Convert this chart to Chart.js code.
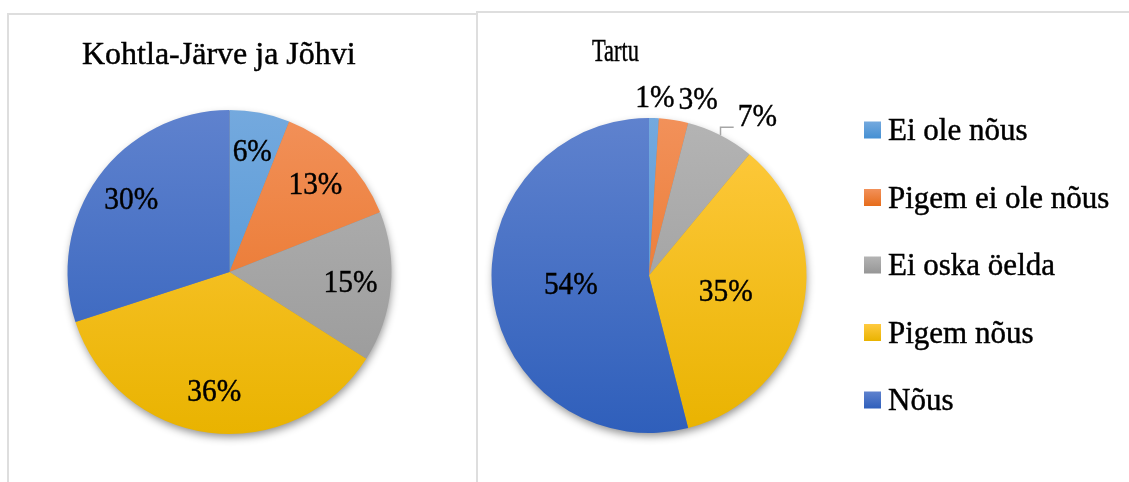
<!DOCTYPE html>
<html>
<head>
<meta charset="utf-8">
<title>Kohtla-Järve ja Jõhvi / Tartu</title>
<script src="https://cdn.jsdelivr.net/npm/chart.js@4.4.1/dist/chart.umd.min.js"></script>
<style>
body { margin: 0; background: #fff; width: 1129px; height: 482px; overflow: hidden; position: relative; }
.frame { position: absolute; border: 2px solid #dedede; height: 520px; }
#frameLeft { left: 7px; top: 13px; width: 467px; }
#frameRight { left: 476px; top: 11px; width: 700px; }
canvas { position: absolute; top: 0; }
#leftChart { left: 0; }
#rightChart { left: 478px; }
</style>
</head>
<body>
<div class="frame" id="frameLeft"></div>
<div class="frame" id="frameRight"></div>
<canvas id="leftChart" width="478" height="482"></canvas>
<canvas id="rightChart" width="651" height="482"></canvas>
<script>
"use strict";

const CATEGORIES = ["Ei ole nõus", "Pigem ei ole nõus", "Ei oska öelda", "Pigem nõus", "Nõus"];
const KOHTLA_VALUES = [6, 13, 15, 36, 30];
const TARTU_VALUES = [1, 3, 7, 35, 54];
const TITLES = ["Kohtla-Järve ja Jõhvi", "Tartu"];

// office style gradient, top and bottom colour of every slice
const COLOR_TOP = ["#74a9de", "#f2915a", "#b4b4b4", "#ffca40", "#5f82ce"];
const COLOR_BOTTOM = ["#4590d3", "#e66c1b", "#969696", "#e9b300", "#2f5fbb"];

const FONT = "'Liberation Serif', 'Times New Roman', serif";


function sliceColor(ctx) {
    let chart = ctx.chart;
    let area = chart.chartArea;
    let i = ctx.dataIndex;
    if (!area) {
        return COLOR_TOP[i];
    }
    let g = chart.ctx.createLinearGradient(0, area.top, 0, area.bottom);
    g.addColorStop(0, COLOR_TOP[i]);
    g.addColorStop(1, COLOR_BOTTOM[i]);
    return g;
}


// soft shadow under the whole pie
const pieShadow = {
    id: "pieShadow",
    beforeDatasetsDraw(chart) {
        let arc = chart.getDatasetMeta(0).data[0];
        if (!arc) return;
        let c = chart.ctx;
        c.save();
        c.shadowColor = "rgba(0,0,0,0.45)";
        c.shadowBlur = 9;
        c.shadowOffsetX = 1;
        c.shadowOffsetY = 4;
        c.beginPath();
        c.arc(arc.x, arc.y, arc.outerRadius - 1, 0, Math.PI * 2);
        c.fillStyle = "#888";
        c.fill();
        c.restore();
    }
};


// text a bit heavier, like the word export
function drawText(c, text, x, y, scaleX) {
    c.save();
    c.translate(x, y);
    c.scale(scaleX, 1);
    c.fillText(text, 0, 0);
    c.lineWidth = 0.45;
    c.strokeStyle = c.fillStyle;
    c.strokeText(text, 0, 0);
    c.restore();
}


// percent labels, small slices go outside (pushed right when they collide)
const sliceLabels = {
    id: "sliceLabels",
    afterDatasetsDraw(chart, args, opts) {
        let c = chart.ctx;
        let meta = chart.getDatasetMeta(0);
        let values = chart.data.datasets[0].data;
        let placed = [];
        c.save();
        c.font = opts.size + "px " + FONT;
        c.fillStyle = "#000";
        c.textAlign = "center";
        c.textBaseline = "middle";
        meta.data.forEach(function(arc, i) {
            let p = arc.getProps(["x", "y", "startAngle", "endAngle", "outerRadius"]);
            let mid = (p.startAngle + p.endAngle) / 2;
            let cos = Math.cos(mid);
            let sin = Math.sin(mid);
            let text = values[i] + "%";
            let w = c.measureText(text).width * opts.scaleX;
            let h = opts.size * 0.7;
            let x, y;
            if (values[i] >= opts.outsideBelow) {
                x = p.x + cos * p.outerRadius * opts.inside;
                y = p.y + sin * p.outerRadius * opts.inside;
            } else {
                let r = p.outerRadius + 8;
                x = p.x + cos * r + cos * w / 2;
                y = p.y + sin * r + sin * h / 2;
                let prev = placed[placed.length - 1];
                if (prev && x - w / 2 < prev.right + 4 && Math.abs(y - prev.y) < h) {
                    let left = prev.right + 4;
                    if (Math.abs(y - prev.y) > 10) {
                        left += 16;
                        let ex = p.x + cos * p.outerRadius;
                        let ey = p.y + sin * p.outerRadius;
                        let ly = y + h / 2 - 2;
                        c.save();
                        c.strokeStyle = "#a6a6a6";
                        c.lineWidth = 1.5;
                        c.beginPath();
                        c.moveTo(ex, ey);
                        c.lineTo(ex, ly);
                        c.lineTo(left - 4, ly);
                        c.stroke();
                        c.restore();
                    }
                    x = left + w / 2;
                }
                placed.push({right: x + w / 2, y: y});
            }
            drawText(c, text, x, y, opts.scaleX);
        });
        c.restore();
    }
};


const panelTitle = {
    id: "panelTitle",
    afterDraw(chart, args, opts) {
        let c = chart.ctx;
        c.save();
        c.font = opts.size + "px " + FONT;
        c.fillStyle = "#000";
        c.textAlign = "left";
        c.textBaseline = "alphabetic";
        drawText(c, opts.text, opts.x, opts.y, opts.scaleX);
        c.restore();
    }
};


const sideLegend = {
    id: "sideLegend",
    afterDraw(chart, args, opts) {
        let c = chart.ctx;
        c.save();
        c.font = opts.size + "px " + FONT;
        c.textAlign = "left";
        c.textBaseline = "alphabetic";
        CATEGORIES.forEach(function(name, i) {
            let cy = opts.top + i * opts.step;
            let b = opts.box;
            let g = c.createLinearGradient(0, cy - b / 2, 0, cy + b / 2);
            g.addColorStop(0, COLOR_TOP[i]);
            g.addColorStop(1, COLOR_BOTTOM[i]);
            c.fillStyle = g;
            c.fillRect(opts.x, cy - b / 2, b, b);
            c.fillStyle = "#000";
            drawText(c, name, opts.x + b + 7, cy + 10, 1);
        });
        c.restore();
    }
};


function makePie(id, values, padding, pluginOpts, extra) {
    let ctx = document.getElementById(id).getContext("2d");
    let plugins = [pieShadow, sliceLabels, panelTitle].concat(extra);
    let opts = {
        legend: { display: false },
        tooltip: { enabled: false }
    };
    for (let k in pluginOpts) {
        opts[k] = pluginOpts[k];
    }
    return new Chart(ctx, {
        type: "pie",
        data: {
            labels: CATEGORIES,
            datasets: [{
                data: values,
                backgroundColor: sliceColor,
                borderWidth: 0
            }]
        },
        options: {
            responsive: false,
            animation: false,
            events: [],
            layout: { padding: padding },
            plugins: opts
        },
        plugins: plugins
    });
}


makePie("leftChart", KOHTLA_VALUES,
    { left: 67.5, right: 86.5, top: 110, bottom: 48 },
    {
        sliceLabels: { size: 32, scaleX: 0.92, inside: 0.75, outsideBelow: 0 },
        panelTitle: { text: TITLES[0], x: 82, y: 64, size: 32, scaleX: 1 }
    },
    []);

makePie("rightChart", TARTU_VALUES,
    { left: 13.5, right: 322.5, top: 118, bottom: 49 },
    {
        sliceLabels: { size: 32, scaleX: 0.92, inside: 0.5, outsideBelow: 10 },
        panelTitle: { text: TITLES[1], x: 114, y: 61, size: 32, scaleX: 0.7 },
        sideLegend: { x: 386, top: 130, step: 67.5, box: 17, size: 31 }
    },
    [sideLegend]);
</script>
</body>
</html>
